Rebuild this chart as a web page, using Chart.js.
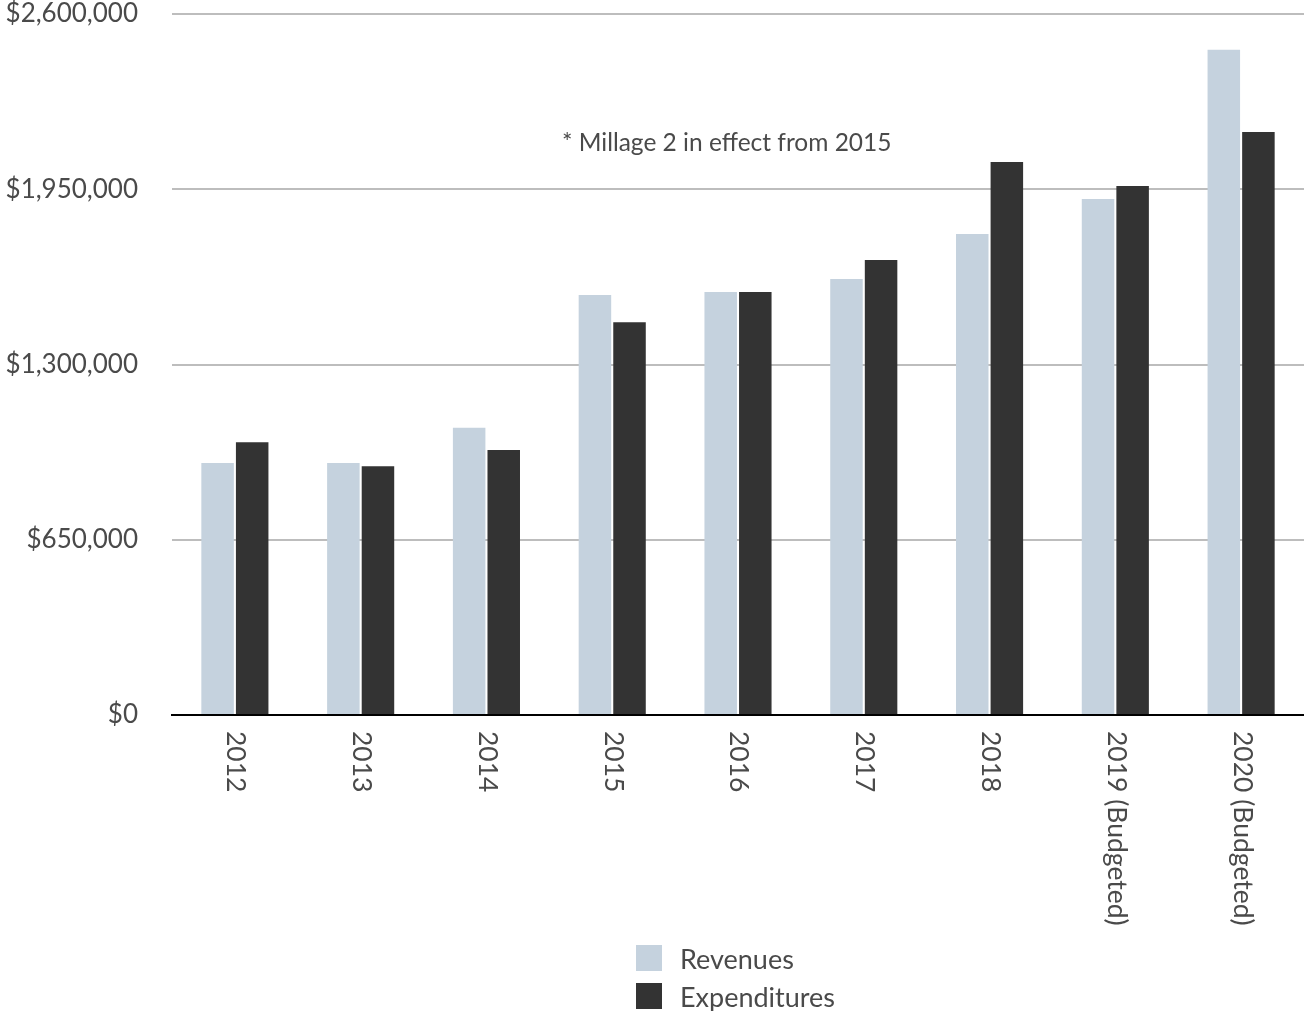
<!DOCTYPE html>
<html>
<head>
<meta charset="utf-8">
<script src="https://cdn.jsdelivr.net/npm/chart.js@4.4.1/dist/chart.umd.min.js"></script>
<style>
  html, body { margin: 0; padding: 0; background: #fff; }
  #wrap { position: relative; width: 1304px; height: 1011px; }
  #legend { position: absolute; left: 636px; top: 939px; font-family: Lato, sans-serif; font-size: 27px; color: #4a4a4a; }
  .item { display: flex; align-items: center; height: 38px; }
  .box { width: 26px; height: 26px; margin-right: 18px; }
</style>
</head>
<body>
<div id="wrap">
  <canvas id="chart" width="1304" height="1011"></canvas>
  <div id="legend"></div>
</div>
<script>
const categories = ['2012', '2013', '2014', '2015', '2016', '2017', '2018', '2019 (Budgeted)', '2020 (Budgeted)'];
const revenues = [935000, 935000, 1065000, 1558000, 1569000, 1617000, 1784000, 1914000, 2467000];
const expenditures = [1012000, 923000, 983000, 1457000, 1569000, 1688000, 2051000, 1962000, 2162000];
const yTicks = [0, 650000, 1300000, 1950000, 2600000];
const note = '* Millage 2 in effect from 2015';

const REV_COLOR = '#c5d2de';
const EXP_COLOR = '#333333';
const FONT = 'Lato, sans-serif';

// x labels read top-to-bottom, Chart.js only rotates the other way, so draw them here
const xLabelsPlugin = {
    id: 'xLabels',
    afterDraw(chart) {
        const ctx = chart.ctx;
        const xs = chart.scales.x;
        const area = chart.chartArea;
        ctx.save();
        ctx.font = '26.5px ' + FONT;
        ctx.fillStyle = '#4a4a4a';
        ctx.textAlign = 'left';
        ctx.textBaseline = 'middle';
        categories.forEach((c, i) => {
            ctx.save();
            ctx.translate(xs.getPixelForValue(i) + 1, area.bottom + 16);
            ctx.rotate(Math.PI / 2);
            ctx.fillText(c, 0, 0);
            ctx.restore();
        });
        // note inside plot
        ctx.font = '24.5px ' + FONT;
        ctx.fillText(note, area.left + 390, chart.scales.y.getPixelForValue(2121000));
        ctx.restore();
    }
};

const chart = new Chart(document.getElementById('chart'), {
    type: 'bar',
    data: {
        labels: categories,
        datasets: [
            { label: 'Revenues', data: revenues, backgroundColor: REV_COLOR },
            { label: 'Expenditures', data: expenditures, backgroundColor: EXP_COLOR }
        ]
    },
    options: {
        responsive: false,
        animation: false,
        devicePixelRatio: 1,
        layout: { padding: { top: 14, right: 0, bottom: 296, left: 0 } },
        datasets: { bar: { barPercentage: 0.94, categoryPercentage: 0.55 } },
        scales: {
            x: {
                grid: { display: false, drawTicks: false },
                border: { color: '#000', width: 2 },
                ticks: { display: false }
            },
            y: {
                min: 0,
                max: 2600000,
                afterBuildTicks: (s) => { s.ticks = yTicks.map(v => ({ value: v })); },
                afterFit: (s) => {
                    s.width = 172;
                    // tick padding would otherwise push the plot down
                    s.paddingTop = 14;
                    s.paddingBottom = 0;
                },
                grid: { color: '#bdbdbd', lineWidth: 2, drawTicks: false },
                border: { display: false },
                ticks: {
                    padding: 34,
                    color: '#4a4a4a',
                    font: { family: FONT, size: 26 },
                    callback: (v) => '$' + v.toLocaleString('en-US')
                }
            }
        },
        plugins: {
            legend: { display: false },
            tooltip: { enabled: false }
        }
    },
    plugins: [xLabelsPlugin]
});

const legend = document.getElementById('legend');
chart.data.datasets.forEach(ds => {
    const row = document.createElement('div');
    row.className = 'item';
    row.innerHTML = '<div class="box" style="background:' + ds.backgroundColor + '"></div><span>' + ds.label + '</span>';
    legend.appendChild(row);
});
</script>
</body>
</html>
